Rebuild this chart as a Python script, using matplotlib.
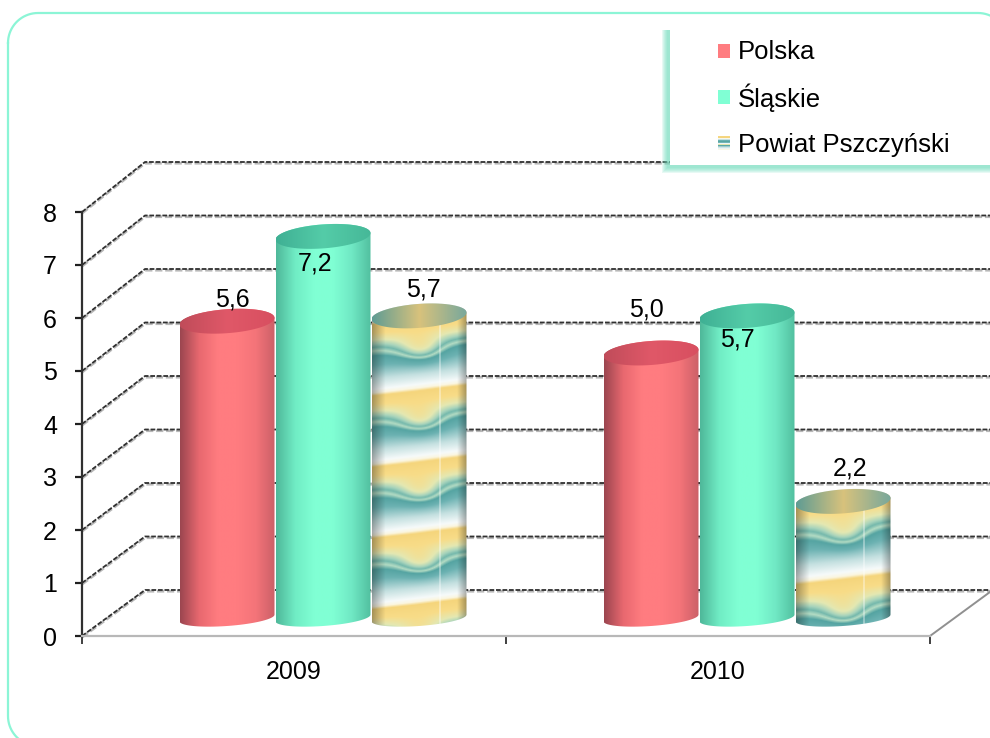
import numpy as np
import matplotlib
matplotlib.use("Agg")
import matplotlib.pyplot as plt
from matplotlib.colors import to_rgb
from matplotlib.patches import PathPatch, Rectangle
from matplotlib.path import Path

plt.rcParams["font.family"] = ["Liberation Sans", "DejaVu Sans"]

categories = ["2009", "2010"]
series_names = ["Polska", "Śląskie", "Powiat Pszczyński"]
polska = [5.6, 5.0]
slaskie = [7.2, 5.7]
powiat = [5.7, 2.2]
y_ticks = [0, 1, 2, 3, 4, 5, 6, 7, 8]

# plot box in pixels of the 990x738 picture
W, H = 990, 738
LEFT, RIGHT, BOTTOM, TOP = 82, 930, 636, 212
PX_X = 2 / (RIGHT - LEFT)
PX_Y = 8 / (BOTTOM - TOP)

# 3D look, in pixels
WALL_DX, WALL_DY = 63, 46
WALL_SCALE = 53.5 / 53
BAR_W = 95
BAR_STEP = 96
BAR_SHIFT = 29
BASE_UP = 18
TOP_E, BOT_E = 12, 8
TILT = 0.07

# label offsets from the top of each bar, in pixels (x, y)
label_off = {
    (0, 0): (5, 22), (0, 1): (-8, -27), (0, 2): (4, 26),
    (1, 0): (-5, 44), (1, 1): (-10, -24), (1, 2): (7, 33),
}

red_shade = ["#9c4650", "#e8686f", "#ff7c80", "#ff7c80", "#f47479", "#cc6068"]
green_shade = ["#4fb89a", "#70ecc4", "#80ffd4", "#80ffd4", "#70e8c4", "#52c0a0"]
red_top = ["#c04c5a", "#e05868", "#d84f60"]
green_top = ["#3fb094", "#54cca8", "#46b898"]
tex_stops = [(0.0, "#fbf6e0"), (0.04, "#f5d57c"), (0.17, "#f8dc88"), (0.28, "#e4e8b2"),
             (0.35, "#a8d4bc"), (0.40, "#74b8ac"), (0.45, "#b4dcc4"), (0.51, "#55a4a2"),
             (0.62, "#6cb2b2"), (0.80, "#c4e0e0"), (0.95, "#f6fafa"), (1.0, "#fbf6e0")]


def shade_strip(colors, n=120):
    rgb = np.array([to_rgb(c) for c in colors])
    u = np.linspace(0, 1, n)
    pos = np.linspace(0, 1, len(colors))
    return np.stack([np.interp(u, pos, rgb[:, i]) for i in range(3)], axis=-1)[None, :, :]


def texture(h, period, phase):
    # repeating wavy band picture for the third series
    u = np.linspace(0, 1, BAR_W)
    yy = np.arange(h)[:, None]
    base = ((yy + phase) / period) % 1
    # the waves sit in the middle of a band, the yellow top edge stays nearly flat
    weight = np.exp(-((base - 0.45) / 0.2) ** 2)
    wave = 3 * np.cos(u * 2 * np.pi) - 10 * np.exp(-((u - 0.52) / 0.2) ** 2)
    p = ((yy + wave[None, :] * weight + 11 * (u[None, :] - 0.5) + phase) / period) % 1
    pos = [s[0] for s in tex_stops]
    rgb = np.array([to_rgb(s[1]) for s in tex_stops])
    img = np.stack([np.interp(p, pos, rgb[:, i]) for i in range(3)], axis=-1)
    edge = 0.68 + 0.32 * np.clip(np.minimum(u / 0.14, (1 - u) / 0.1), 0, 1)
    img = img * edge[None, :, None]
    line = np.abs(u - 0.72) < 0.008
    img[:, line] = img[:, line] * 0.65 + 0.35
    return img


def ellipse_pts(cx, cy, a, b, t0, t1, n=40):
    t = np.linspace(t0, t1, n)
    xs = cx + a * np.cos(t)
    ys = cy + b * np.sin(t) + TILT * (a * np.cos(t)) / PX_X * PX_Y
    return xs, ys


def cylinder(ax, cx, value, img, top_colors, z):
    a = BAR_W / 2 * PX_X
    base = BASE_UP * PX_Y
    top = value + base
    xb, yb = ellipse_pts(cx, base, a, BOT_E * PX_Y, np.pi, 2 * np.pi)
    xt, yt = ellipse_pts(cx, top, a, TOP_E * PX_Y, 0, np.pi)
    body = Path(np.column_stack([np.r_[xb, xt], np.r_[yb, yt]]))
    y_lo, y_hi = base - 14 * PX_Y, top + 16 * PX_Y
    im = ax.imshow(img, extent=(cx - a, cx + a, y_lo, y_hi), aspect="auto", zorder=z,
                   interpolation="bilinear", origin="upper")
    clip = PathPatch(body, transform=ax.transData, facecolor="none", edgecolor="none")
    ax.add_patch(clip)
    im.set_clip_path(clip)
    xe, ye = ellipse_pts(cx, top, a, TOP_E * PX_Y, 0, 2 * np.pi, 80)
    cap = PathPatch(Path(np.column_stack([xe, ye])), transform=ax.transData, facecolor="none", edgecolor="none")
    ax.add_patch(cap)
    cim = ax.imshow(shade_strip(top_colors), extent=(cx - a, cx + a, top - 16 * PX_Y, top + 16 * PX_Y),
                    aspect="auto", zorder=z + 0.1, interpolation="bilinear")
    cim.set_clip_path(cap)


def round_frame(x0, y0, x1, y1, r):
    # plain polyline, curves that leave the canvas get clipped badly
    xs, ys = [], []
    for cx, cy, start in [(x0 + r, y0 + r, np.pi), (x1 - r, y0 + r, 1.5 * np.pi),
                          (x1 - r, y1 - r, 0), (x0 + r, y1 - r, 0.5 * np.pi)]:
        t = np.linspace(start, start + np.pi / 2, 20)
        xs.extend(cx + r * np.cos(t))
        ys.extend(cy + r * np.sin(t))
    return xs + xs[:1], ys + ys[:1]


fig = plt.figure(figsize=(W / 100, H / 100), dpi=100, facecolor="white")
ax = fig.add_axes([LEFT / W, 1 - BOTTOM / H, (RIGHT - LEFT) / W, (BOTTOM - TOP) / H], facecolor="none")

# back wall grid and side wall diagonals
x0 = -0.5
for v in y_ticks:
    yb = (v * WALL_SCALE) + WALL_DY * PX_Y
    xb = x0 + WALL_DX * PX_X
    for col, lw, dy in [("#b8b8b8", 2.0, -1.2 * PX_Y), ("#303030", 1.3, 0)]:
        ax.plot([x0, xb, x0 + (W - LEFT) * PX_X], [v + dy, yb + dy, yb + dy], color=col, lw=lw,
                ls=(0, (2.6, 1.0)), clip_on=False, zorder=1)
ax.plot([1.5, 1.5 + 60 * PX_X], [0, 44 * PX_Y], color="#909090", lw=1.4, clip_on=False, zorder=1)

for i, cat in enumerate(categories):
    for j, values in enumerate([polska, slaskie, powiat]):
        cx = i + (BAR_SHIFT + (j - 1) * BAR_STEP) * PX_X
        v = values[i]
        if j == 0:
            img, cap = shade_strip(red_shade), red_top
        elif j == 1:
            img, cap = shade_strip(green_shade), green_top
        else:
            h = int(v / PX_Y + 30)
            img = texture(h, 71 if i == 0 else 78, 54 if i == 0 else 66)
            cap = ["#5f9c94", "#d8c27c", "#78a89c"]
        cylinder(ax, cx, v, img, cap, 3 + j)
        ox, oy = label_off[(i, j)]
        ax.text(cx + ox * PX_X, v + BASE_UP * PX_Y + oy * PX_Y, f"{v:.1f}".replace(".", ","),
                ha="center", va="center", fontsize=18, color="black", zorder=8)

ax.set_xlim(-0.5, 1.5)
ax.set_ylim(0, 8)
ax.set_yticks(y_ticks)
ax.set_xticks([-0.5, 0.5, 1.5])
ax.set_xticklabels([])
ax.set_xticks([0, 1], labels=categories, minor=True)
ax.tick_params(axis="y", length=5, width=1.6, color="#202020", pad=13, labelsize=18)
ax.tick_params(axis="x", which="major", length=6, width=1.2, color="#202020")
ax.tick_params(axis="x", which="minor", length=0, pad=17, labelsize=18)
for s in ["top", "right"]:
    ax.spines[s].set_visible(False)
ax.spines["left"].set_color("#303030")
ax.spines["left"].set_linewidth(1.6)
ax.spines["bottom"].set_color("#b8b8b8")
ax.spines["bottom"].set_linewidth(1.6)

# overlay in picture pixels: frame and legend
ov = fig.add_axes([0, 0, 1, 1], facecolor="none", zorder=5)
ov.axis("off")
fx, fy = round_frame(8, 13, 1008, 746, 30)
ov.plot(fx, fy, color="#8cf5d6", lw=1.6)
for k in range(6, 0, -1):
    ov.add_patch(Rectangle((668 - k, 30), 340, 135 + k + 2, fc="#6fdcbc", ec="none", alpha=0.16))
ov.add_patch(Rectangle((670, 28), 330, 137, fc="white", ec="none"))
ov.add_patch(Rectangle((718, 44), 12, 14, fc="#ff7c80", ec="none"))
ov.add_patch(Rectangle((718, 90), 12, 14, fc="#80ffd4", ec="none"))
ov.imshow(texture(14, 14, 1)[:, [46]], extent=(718, 730, 150, 136), aspect="auto", zorder=3, interpolation="bilinear")
ov.set_xlim(0, W)
ov.set_ylim(H, 0)
for name, y in zip(series_names, [52, 98, 145]):
    ov.text(738, y, name, fontsize=18.5, va="center", ha="left", color="black", zorder=4)

fig.savefig("out.png", dpi=100)
